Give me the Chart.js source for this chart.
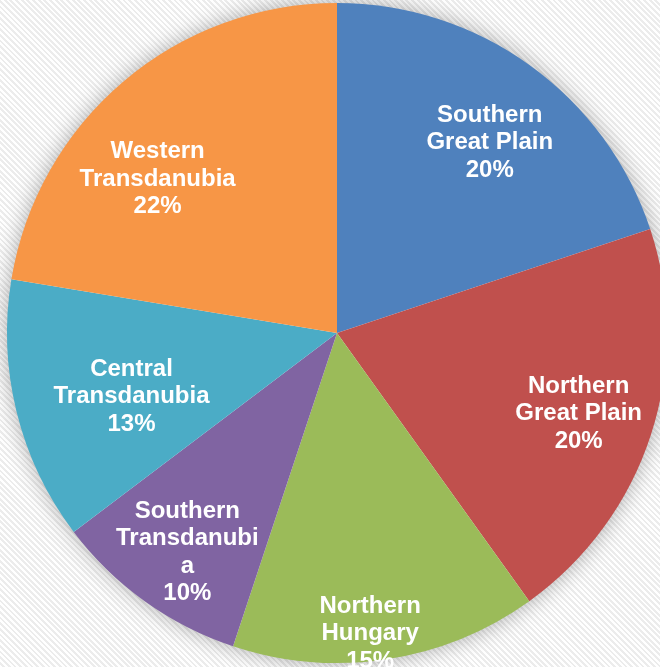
<!DOCTYPE html>
<html>
<head>
<meta charset="utf-8">
<script src="https://cdn.jsdelivr.net/npm/chart.js@4"></script>
<style>
  html, body {
    margin: 0;
    padding: 0;
    width: 660px;
    height: 667px;
    overflow: hidden;
    background: repeating-linear-gradient(45deg, #ffffff 0px, #ffffff 2px, #ececec 2px, #ececec 4px);
  }
  #wrap {
    position: absolute;
    left: -13px;
    top: -17px;
    width: 700px;
    height: 700px;
  }
</style>
</head>
<body>
<div id="wrap"><canvas id="pie"></canvas></div>
<script>
// regions and their share (%)
const regions = [
  ['Southern', 'Great Plain'],
  ['Northern', 'Great Plain'],
  ['Northern', 'Hungary'],
  ['Southern', 'Transdanubi', 'a'],
  ['Central', 'Transdanubia'],
  ['Western', 'Transdanubia']
];
const shares = [19.9, 20.2, 15.0, 9.6, 12.9, 22.4];
const colors = ['#4F81BD', '#C0504D', '#9BBB59', '#8064A2', '#4BACC6', '#F79646'];

// where Excel put each label: fraction of radius, angle tweak in degrees
const labelRadius = [0.745, 0.77, 0.91, 0.8, 0.65, 0.72];
const labelTurn = [2.6, 0, 2.3, -1.1, -2.8, -8.7];

// soft grey halo behind the pie
const halo = {
  id: 'halo',
  beforeDatasetsDraw(chart) {
    const arc = chart.getDatasetMeta(0).data[0];
    const ctx = chart.ctx;
    ctx.save();
    ctx.shadowColor = 'rgba(0,0,0,0.35)';
    ctx.shadowBlur = 22;
    ctx.fillStyle = '#ffffff';
    ctx.beginPath();
    ctx.arc(arc.x, arc.y, arc.outerRadius - 1, 0, Math.PI * 2);
    ctx.fill();
    ctx.restore();
  }
};

// white bold labels inside the slices
const sliceLabels = {
  id: 'sliceLabels',
  afterDatasetsDraw(chart) {
    const ctx = chart.ctx;
    ctx.save();
    ctx.fillStyle = '#ffffff';
    ctx.font = 'bold 24px "Liberation Sans", Arial, sans-serif';
    ctx.textAlign = 'center';
    ctx.textBaseline = 'middle';
    chart.getDatasetMeta(0).data.forEach((arc, i) => {
      const mid = (arc.startAngle + arc.endAngle) / 2 + labelTurn[i] * Math.PI / 180;
      const r = arc.outerRadius * labelRadius[i];
      const cx = arc.x + Math.cos(mid) * r;
      const cy = arc.y + Math.sin(mid) * r + 2;
      const lines = regions[i].concat([Math.round(shares[i]) + '%']);
      const lh = 27.5;
      lines.forEach((t, k) => {
        ctx.fillText(t, cx, cy + (k - (lines.length - 1) / 2) * lh);
      });
    });
    ctx.restore();
  }
};

new Chart(document.getElementById('pie'), {
  type: 'pie',
  data: {
    labels: regions.map(r => r.join(' ')),
    datasets: [{
      data: shares,
      backgroundColor: colors,
      borderWidth: 0
    }]
  },
  options: {
    responsive: true,
    maintainAspectRatio: false,
    animation: false,
    layout: { padding: 20 },
    plugins: {
      legend: { display: false },
      tooltip: { enabled: false }
    }
  },
  plugins: [halo, sliceLabels]
});
</script>
</body>
</html>
